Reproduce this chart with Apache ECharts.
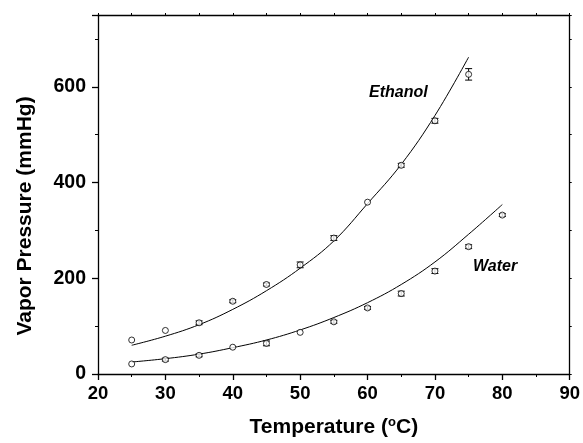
<!DOCTYPE html>
<html>
<head>
<meta charset="utf-8">
<script src="https://cdn.jsdelivr.net/npm/echarts@6/dist/echarts.min.js"></script>
<style>html,body{margin:0;padding:0;background:#fff}#c{width:583px;height:443px}</style>
</head>
<body>
<div id="c"></div>
<script>
// Measured data
var ethanolTemps = [25, 30, 35, 40, 45, 50, 55, 60, 65, 70, 75];
var ethanolVals  = [71, 91, 107, 152, 187, 228, 284, 359, 436, 529, 626];
var ethanolErr   = [0, 0, 4, 3, 3, 6, 5, 0, 4, 5, 12];

var waterTemps = [25, 30, 35, 40, 45, 50, 55, 60, 65, 70, 75, 80];
var waterVals  = [21, 30, 39, 56, 64, 87, 109, 138, 168, 215, 266, 332];
var waterErr   = [0, 3, 3, 0, 5, 0, 3, 3, 5, 5, 4, 3];

// Fitted curves
var ethanolFitTemps = [25, 30, 35, 40, 45, 50, 55, 60, 65, 70, 75];
var ethanolFitVals  = [60, 79, 103, 135, 174, 221, 278, 356, 438, 540, 662];
var waterFitTemps = [25, 30, 35, 40, 45, 50, 55, 60, 65, 70, 75, 80];
var waterFitVals  = [25, 32, 41.5, 55, 71, 92, 118, 149, 187, 234, 292, 354];

var xTickLabels = ['20', '30', '40', '50', '60', '70', '80', '90'];
var yTickLabels = ['0', '200', '400', '600'];

function pairs(xs, ys) { return xs.map(function (x, i) { return [x, ys[i]]; }); }
function errData(xs, ys, es) {
  var out = [];
  xs.forEach(function (x, i) { if (es[i] > 0) out.push([x, ys[i] - es[i], ys[i] + es[i]]); });
  return out;
}
function errRender(params, api) {
  var x = api.value(0);
  var lo = api.coord([x, api.value(1)]);
  var hi = api.coord([x, api.value(2)]);
  var w = 3.5;
  var st = { stroke: '#000', lineWidth: 1 };
  return {
    type: 'group',
    children: [
      { type: 'line', shape: { x1: lo[0], y1: lo[1], x2: hi[0], y2: hi[1] }, style: st },
      { type: 'line', shape: { x1: lo[0] - w, y1: lo[1], x2: lo[0] + w, y2: lo[1] }, style: st },
      { type: 'line', shape: { x1: hi[0] - w, y1: hi[1], x2: hi[0] + w, y2: hi[1] }, style: st }
    ]
  };
}

var font = 'Liberation Sans, Arial, sans-serif';
var chart = echarts.init(document.getElementById('c'), null, { renderer: 'canvas' });
var axisLine = { show: true, onZero: false, lineStyle: { color: '#000', width: 1.3 } };

chart.setOption({
  animation: false,
  backgroundColor: '#fff',
  grid: { left: 98, right: 13, top: 15, bottom: 69, containLabel: false },
  xAxis: [
    {
      type: 'value', min: 20, max: 90, interval: 10, position: 'bottom',
      axisLine: axisLine,
      axisTick: { show: true, length: 6, lineStyle: { color: '#000', width: 1.3 } },
      minorTick: { show: true, splitNumber: 2, length: 3, lineStyle: { color: '#000', width: 1 } },
      splitLine: { show: false },
      axisLabel: {
        margin: 10, color: '#000', fontFamily: font, fontWeight: 'bold', fontSize: 18.5,
        formatter: function (v) { var s = String(v); return xTickLabels.indexOf(s) >= 0 ? s : ''; }
      },
      name: 'Temperature ({sup|o}C)',
      nameLocation: 'middle', nameGap: 42,
      nameTextStyle: {
        color: '#000', fontFamily: font, fontWeight: 'bold', fontSize: 21,
        rich: { sup: { fontSize: 13, fontWeight: 'bold', fontFamily: font, verticalAlign: 'top', padding: [0, 0, 9, 0] } }
      }
    },
    {
      type: 'value', min: 20, max: 90, interval: 5, position: 'top',
      axisLine: axisLine,
      axisTick: { show: true, length: 2, inside: false, lineStyle: { color: '#000', width: 1 } },
      axisLabel: { show: false }, splitLine: { show: false }
    }
  ],
  yAxis: [
    {
      type: 'value', min: 0, max: 750, interval: 200, position: 'left',
      axisLine: axisLine,
      axisTick: { show: true, length: 6, lineStyle: { color: '#000', width: 1.3 } },
      splitLine: { show: false },
      axisLabel: {
        margin: 12, color: '#000', fontFamily: font, fontWeight: 'bold', fontSize: 19.5,
        formatter: function (v) { var s = String(v); return yTickLabels.indexOf(s) >= 0 ? s : ''; }
      }
    },
    {
      type: 'value', min: 0, max: 750, interval: 100, position: 'left',
      axisLine: { show: false, onZero: false },
      axisTick: { show: true, length: 3, lineStyle: { color: '#000', width: 1 } },
      axisLabel: { show: false }, splitLine: { show: false }
    },
    {
      type: 'value', min: 0, max: 750, interval: 100, position: 'right',
      axisLine: axisLine,
      axisTick: { show: true, length: 2, lineStyle: { color: '#000', width: 1 } },
      axisLabel: { show: false }, splitLine: { show: false }
    }
  ],
  series: [
    {
      name: 'Ethanol fit', type: 'line', smooth: 0.4, showSymbol: false, symbol: 'none',
      data: pairs(ethanolFitTemps, ethanolFitVals),
      lineStyle: { color: '#000', width: 1 }, z: 2
    },
    {
      name: 'Water fit', type: 'line', smooth: 0.4, showSymbol: false, symbol: 'none',
      data: pairs(waterFitTemps, waterFitVals),
      lineStyle: { color: '#000', width: 1 }, z: 2
    },
    {
      name: 'Ethanol err', type: 'custom', renderItem: errRender,
      data: errData(ethanolTemps, ethanolVals, ethanolErr), encode: { x: 0, y: [1, 2] }, z: 3
    },
    {
      name: 'Water err', type: 'custom', renderItem: errRender,
      data: errData(waterTemps, waterVals, waterErr), encode: { x: 0, y: [1, 2] }, z: 3
    },
    {
      name: 'Ethanol', type: 'scatter', symbol: 'circle', symbolSize: 6,
      data: pairs(ethanolTemps, ethanolVals),
      itemStyle: { color: '#fff', borderColor: '#000', borderWidth: 1 }, z: 4
    },
    {
      name: 'Water', type: 'scatter', symbol: 'circle', symbolSize: 6,
      data: pairs(waterTemps, waterVals),
      itemStyle: { color: '#fff', borderColor: '#000', borderWidth: 1 }, z: 4
    }
  ],
  graphic: [
    { type: 'text', x: 25, y: 216, rotation: Math.PI / 2,
      style: { text: 'Vapor Pressure (mmHg)', font: 'bold 21px ' + font, fill: '#000', align: 'center', verticalAlign: 'middle' } },
    { type: 'text', left: 369, top: 85, style: { text: 'Ethanol', font: 'italic bold 16px ' + font, fill: '#000' } },
    { type: 'text', left: 473, top: 259, style: { text: 'Water', font: 'italic bold 16px ' + font, fill: '#000' } }
  ]
});
</script>
</body>
</html>
